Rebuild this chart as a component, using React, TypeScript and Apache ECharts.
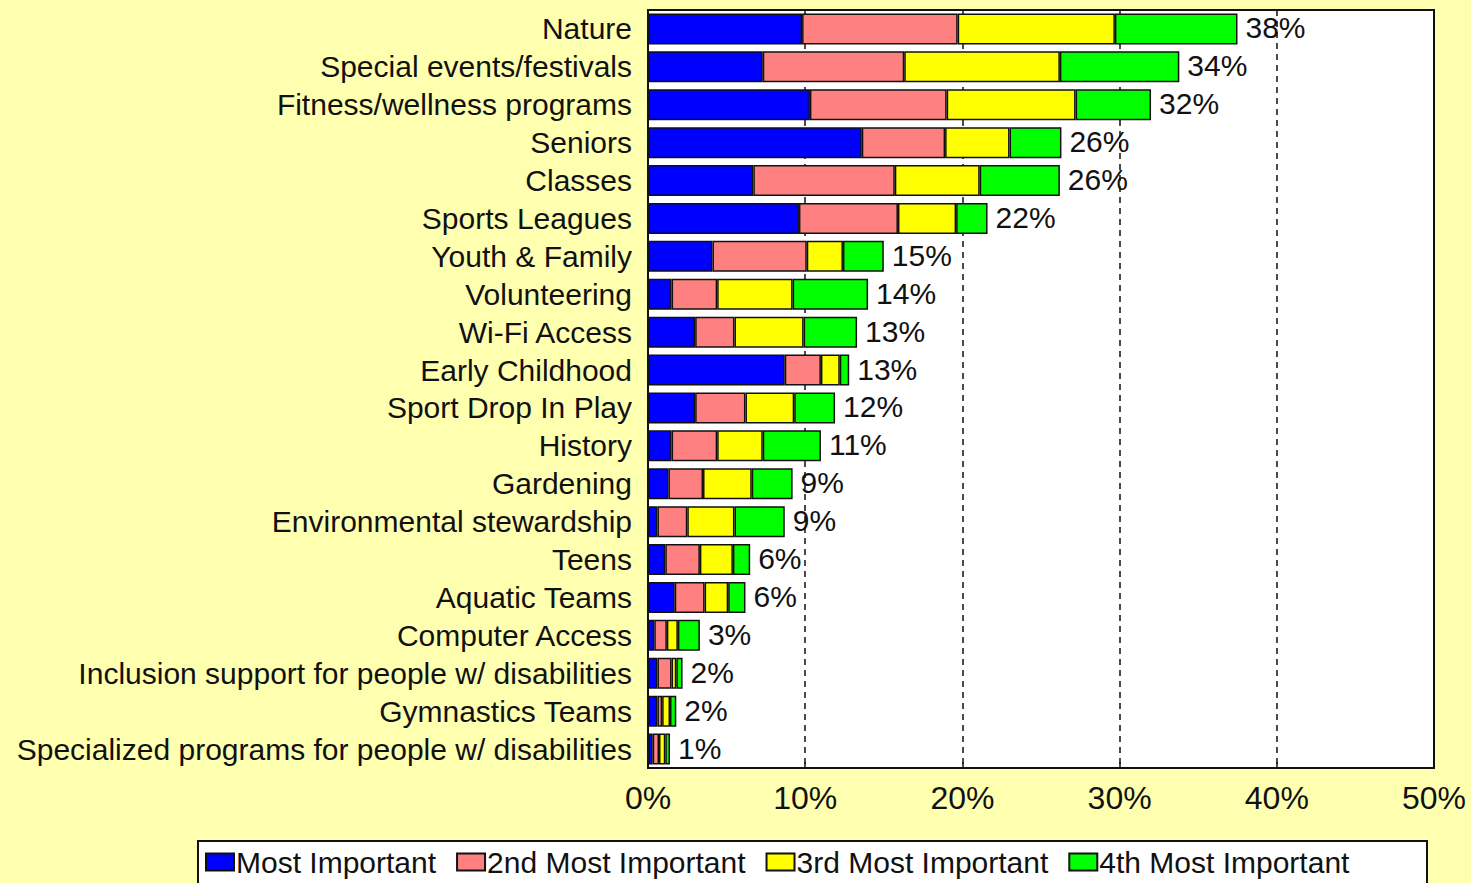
import React, { useEffect, useRef } from "react";
import * as echarts from "echarts";

const categories = [
  "Nature",
  "Special events/festivals",
  "Fitness/wellness programs",
  "Seniors",
  "Classes",
  "Sports Leagues",
  "Youth & Family",
  "Volunteering",
  "Wi-Fi Access",
  "Early Childhood",
  "Sport Drop In Play",
  "History",
  "Gardening",
  "Environmental stewardship",
  "Teens",
  "Aquatic Teams",
  "Computer Access",
  "Inclusion support for people w/ disabilities",
  "Gymnastics Teams",
  "Specialized programs for people w/ disabilities",
];

const mostImportant = [9.8, 7.3, 10.3, 13.6, 6.7, 9.6, 4.1, 1.5, 3.0, 8.7, 3.0, 1.5, 1.3, 0.6, 1.1, 1.7, 0.4, 0.6, 0.6, 0.3];
const secondMost = [9.9, 9.0, 8.7, 5.3, 9.0, 6.3, 6.0, 2.9, 2.5, 2.3, 3.2, 2.9, 2.2, 1.9, 2.2, 1.9, 0.8, 0.9, 0.3, 0.4];
const thirdMost = [10.0, 9.9, 8.2, 4.1, 5.4, 3.7, 2.3, 4.8, 4.4, 1.2, 3.1, 2.9, 3.1, 3.0, 2.1, 1.5, 0.7, 0.3, 0.5, 0.4];
const fourthMost = [7.8, 7.6, 4.8, 3.3, 5.1, 2.0, 2.6, 4.8, 3.4, 0.6, 2.6, 3.7, 2.6, 3.2, 1.1, 1.1, 1.4, 0.4, 0.4, 0.3];
const totals = [38, 34, 32, 26, 26, 22, 15, 14, 13, 13, 12, 11, 9, 9, 6, 6, 3, 2, 2, 1];

const seriesNames = ["Most Important", "2nd Most Important", "3rd Most Important", "4th Most Important"];
const seriesColors = ["#0000FF", "#FF8080", "#FFFF00", "#00FF00"];
const seriesData = [mostImportant, secondMost, thirdMost, fourthMost];

const FONT = "'Liberation Sans', Arial, sans-serif";

export default function App() {
  const ref = useRef<HTMLDivElement>(null);

  useEffect(() => {
    if (!ref.current) return;
    const chart = echarts.init(ref.current, undefined, { renderer: "svg" });
    const series = seriesData.map((d, i) => ({
      name: seriesNames[i],
      type: "bar",
      stack: "total",
      data: d,
      barWidth: 31,
      itemStyle: { color: seriesColors[i], borderColor: "#111", borderWidth: 1.5 },
      label:
        i === 3
          ? {
              show: true,
              position: "right",
              distance: 8,
              fontSize: 30,
              fontFamily: FONT,
              color: "#111",
              offset: [0, -1],
              formatter: (p: any) => totals[p.dataIndex] + "%",
            }
          : { show: false },
    }));
    chart.setOption({
      animation: false,
      backgroundColor: "#FFFFB0",
      textStyle: { fontFamily: FONT },
      graphic: [
        {
          type: "rect",
          z: 0,
          shape: { x: 198, y: 841, width: 1229, height: 60 },
          style: { fill: "#ffffff", stroke: "#111", lineWidth: 2 },
        },
      ],
      legend: {
        left: 205,
        top: 847,
        padding: 0,
        itemGap: 20,
        itemWidth: 28,
        itemHeight: 17,
        icon: "rect",
        z: 10,
        textStyle: { fontSize: 30, color: "#111", fontFamily: FONT, padding: [0, 0, 0, -3] },
        data: seriesNames,
      },
      grid: {
        left: 648,
        top: 10,
        right: 37,
        bottom: 115,
        show: true,
        backgroundColor: "#ffffff",
        borderColor: "#111",
        borderWidth: 2,
      },
      xAxis: {
        type: "value",
        min: 0,
        max: 50,
        interval: 10,
        axisLine: { show: false },
        axisTick: { show: true, inside: true, length: 6, lineStyle: { color: "#111", width: 1.5 } },
        axisLabel: {
          fontSize: 32,
          color: "#111",
          margin: 14,
          fontFamily: FONT,
          formatter: "{value}%",
        },
        splitLine: {
          show: true,
          lineStyle: { color: "#111", type: [6, 5], width: 1.5 },
        },
      },
      yAxis: {
        type: "category",
        data: categories,
        inverse: true,
        axisLine: { show: false },
        axisTick: { show: false },
        axisLabel: { fontSize: 30, color: "#111", margin: 16, fontFamily: FONT, interval: 0 },
        splitLine: { show: false },
      },
      series,
    });
    return () => chart.dispose();
  }, []);

  return (
    <div
      ref={ref}
      style={{ position: "fixed", left: 0, top: 0, width: 1471, height: 883 }}
    />
  );
}
